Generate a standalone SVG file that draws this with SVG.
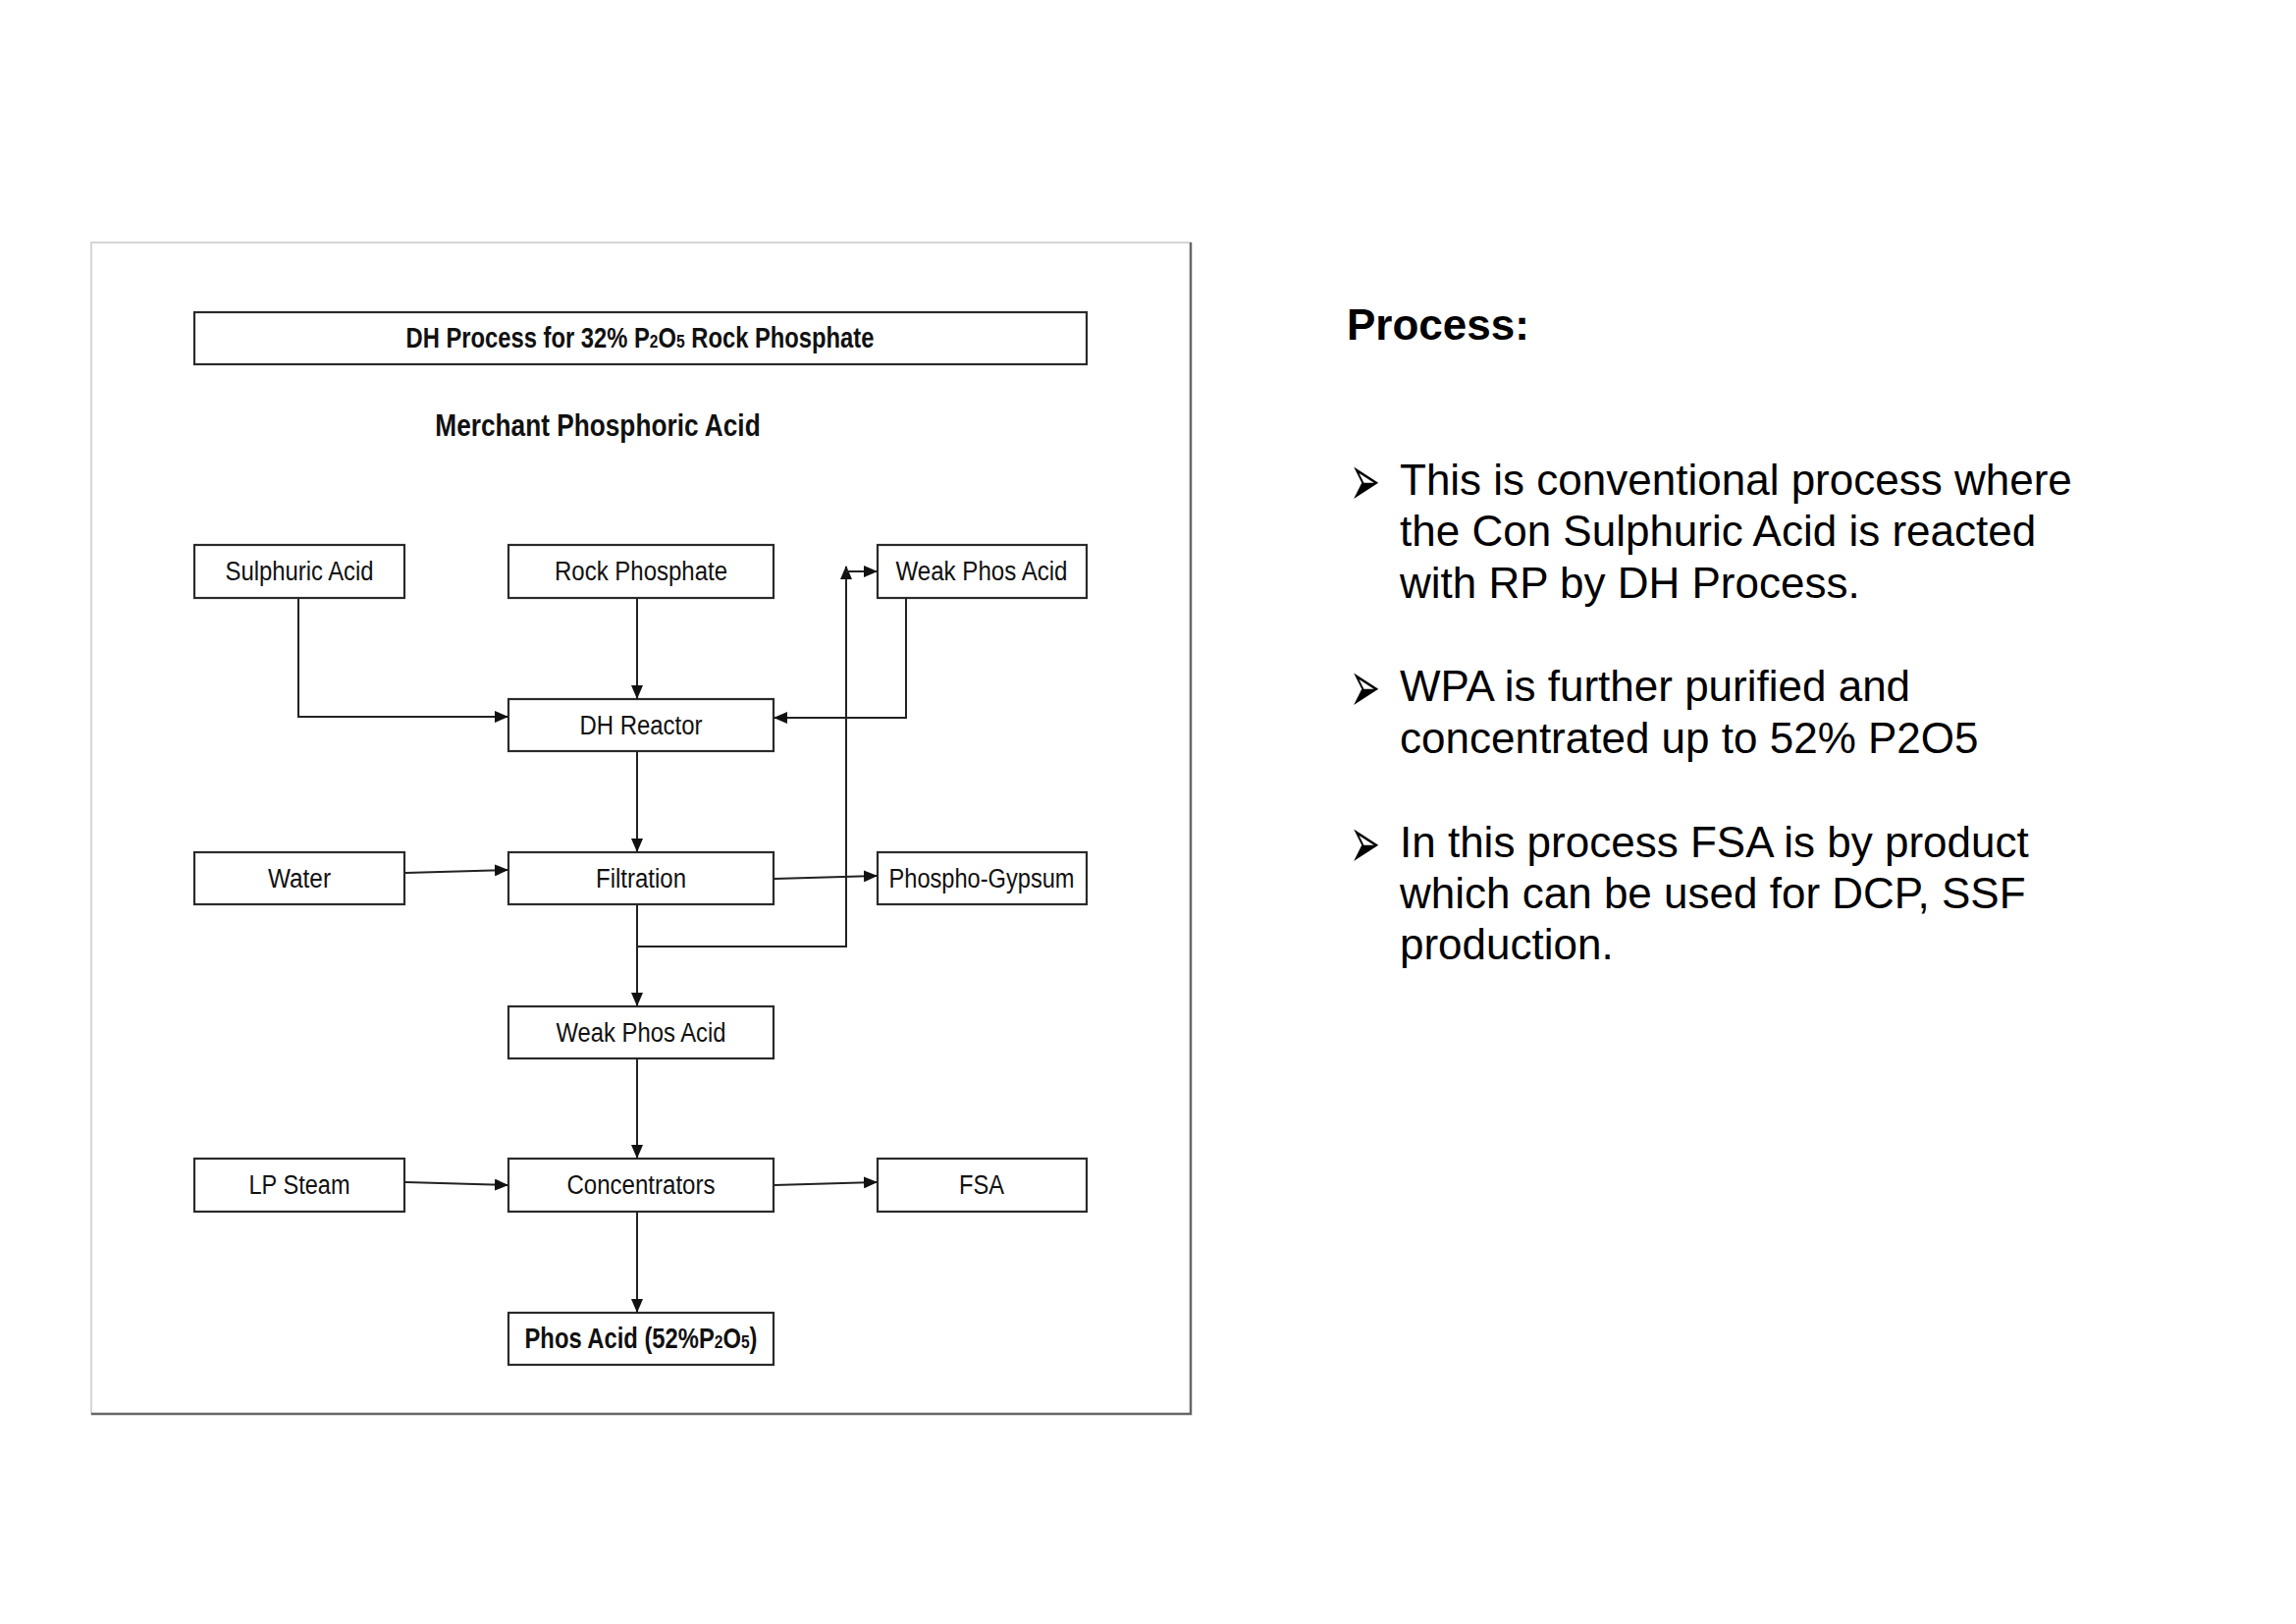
<svg xmlns="http://www.w3.org/2000/svg" width="2339" height="1654" viewBox="0 0 2339 1654">
<style>
.box{fill:#fff;stroke:#2a2a2a;stroke-width:2.2}
.lbl{font-family:"Liberation Sans",Arial,sans-serif;font-size:27px;fill:#111;text-anchor:middle}
.b{font-weight:bold}
.con{fill:none;stroke:#222;stroke-width:2}
.txt{font-family:"Liberation Sans",Arial,sans-serif;font-size:44px;fill:#000}
.bul{font-family:"DejaVu Sans",sans-serif;font-size:37px;fill:#000}
</style>
<defs>
<marker id="ah" markerUnits="userSpaceOnUse" markerWidth="14" markerHeight="12" refX="13" refY="6" orient="auto">
<path d="M0,0 L14,6 L0,12 Z" fill="#111"/>
</marker>
</defs>
<rect width="2339" height="1654" fill="#fff"/>
<g id="frame">
<rect x="93" y="247" width="1120" height="1193" fill="#fff" stroke="#d6d6d6" stroke-width="2"/>
<polyline points="1213,247 1213,1440 93,1440" fill="none" stroke="#666" stroke-width="2.5"/>
</g>
<g id="title">
<rect class="box" x="198" y="318" width="909" height="53"/>
<text class="lbl b" transform="translate(652,354) scale(0.82,1)" style="font-size:29px">DH Process for 32% P<tspan font-size="19">2</tspan>O<tspan font-size="19">5</tspan> Rock Phosphate</text>
</g>
<g id="subtitle">
<text class="lbl b" transform="translate(609,444) scale(0.82,1)" style="font-size:32px">Merchant Phosphoric Acid</text>
</g>
<g id="n-sulphuric">
<rect class="box" x="198" y="555" width="214" height="54"/>
<text class="lbl" x="305" y="591" textLength="151" lengthAdjust="spacingAndGlyphs">Sulphuric Acid</text>
</g>
<g id="n-rock">
<rect class="box" x="518" y="555" width="270" height="54"/>
<text class="lbl" x="653" y="591" textLength="176" lengthAdjust="spacingAndGlyphs">Rock Phosphate</text>
</g>
<g id="n-weak1">
<rect class="box" x="894" y="555" width="213" height="54"/>
<text class="lbl" x="1000" y="591" textLength="175" lengthAdjust="spacingAndGlyphs">Weak Phos Acid</text>
</g>
<g id="n-dh">
<rect class="box" x="518" y="712" width="270" height="53"/>
<text class="lbl" x="653" y="748" textLength="125" lengthAdjust="spacingAndGlyphs">DH Reactor</text>
</g>
<g id="n-water">
<rect class="box" x="198" y="868" width="214" height="53"/>
<text class="lbl" x="305" y="904" textLength="64" lengthAdjust="spacingAndGlyphs">Water</text>
</g>
<g id="n-filtration">
<rect class="box" x="518" y="868" width="270" height="53"/>
<text class="lbl" x="653" y="904" textLength="92" lengthAdjust="spacingAndGlyphs">Filtration</text>
</g>
<g id="n-gypsum">
<rect class="box" x="894" y="868" width="213" height="53"/>
<text class="lbl" x="1000" y="904" textLength="189" lengthAdjust="spacingAndGlyphs">Phospho-Gypsum</text>
</g>
<g id="n-weak2">
<rect class="box" x="518" y="1025" width="270" height="53"/>
<text class="lbl" x="653" y="1061" textLength="173" lengthAdjust="spacingAndGlyphs">Weak Phos Acid</text>
</g>
<g id="n-lpsteam">
<rect class="box" x="198" y="1180" width="214" height="54"/>
<text class="lbl" x="305" y="1216" textLength="103" lengthAdjust="spacingAndGlyphs">LP Steam</text>
</g>
<g id="n-conc">
<rect class="box" x="518" y="1180" width="270" height="54"/>
<text class="lbl" x="653" y="1216" textLength="151" lengthAdjust="spacingAndGlyphs">Concentrators</text>
</g>
<g id="n-fsa">
<rect class="box" x="894" y="1180" width="213" height="54"/>
<text class="lbl" x="1000" y="1216" textLength="46" lengthAdjust="spacingAndGlyphs">FSA</text>
</g>
<g id="n-phosacid">
<rect class="box" x="518" y="1337" width="270" height="53"/>
<text class="lbl b" transform="translate(653,1373) scale(0.82,1)" style="font-size:29px">Phos Acid (52%P<tspan font-size="19">2</tspan>O<tspan font-size="19">5</tspan>)</text>
</g>
<g id="connectors">
<polyline class="con" points="304,609 304,730 517,730" marker-end="url(#ah)"/>
<line class="con" x1="649" y1="609" x2="649" y2="711" marker-end="url(#ah)"/>
<polyline class="con" points="923,609 923,731 789,731" marker-end="url(#ah)"/>
<line class="con" x1="649" y1="765" x2="649" y2="867" marker-end="url(#ah)"/>
<line class="con" x1="413" y1="889" x2="517" y2="886" marker-end="url(#ah)"/>
<line class="con" x1="789" y1="895" x2="893" y2="892" marker-end="url(#ah)"/>
<line class="con" x1="649" y1="921" x2="649" y2="1024" marker-end="url(#ah)"/>
<polyline class="con" points="649,964 862,964 862,577" marker-end="url(#ah)"/>
<line class="con" x1="862" y1="582" x2="893" y2="582" marker-end="url(#ah)"/>
<line class="con" x1="649" y1="1078" x2="649" y2="1179" marker-end="url(#ah)"/>
<line class="con" x1="413" y1="1204" x2="517" y2="1207" marker-end="url(#ah)"/>
<line class="con" x1="789" y1="1207" x2="893" y2="1204" marker-end="url(#ah)"/>
<line class="con" x1="649" y1="1234" x2="649" y2="1336" marker-end="url(#ah)"/>
</g>
<g id="notes">
<text class="txt b" x="1372" y="346">Process:</text>
<text class="bul" transform="translate(1375,515) scale(1,2)">➢</text>
<text class="txt" x="1426" y="504">This is conventional process where</text>
<text class="txt" x="1426" y="556">the Con Sulphuric Acid is reacted</text>
<text class="txt" x="1426" y="609">with RP by DH Process.</text>
<text class="bul" transform="translate(1375,725) scale(1,2)">➢</text>
<text class="txt" x="1426" y="714">WPA is further purified and</text>
<text class="txt" x="1426" y="767">concentrated up to 52% P2O5</text>
<text class="bul" transform="translate(1375,884) scale(1,2)">➢</text>
<text class="txt" x="1426" y="873">In this process FSA is by product</text>
<text class="txt" x="1426" y="925">which can be used for DCP, SSF</text>
<text class="txt" x="1426" y="977">production.</text>
</g>
</svg>
